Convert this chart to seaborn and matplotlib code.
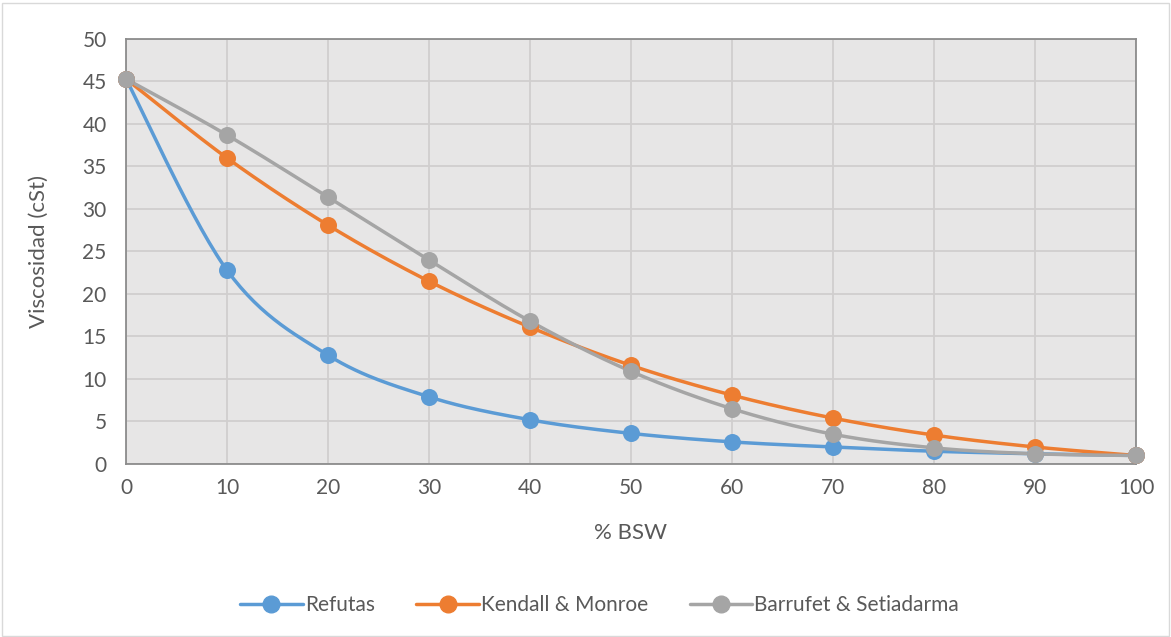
import numpy as np
import pandas as pd
import matplotlib
matplotlib.use("Agg")
import matplotlib.pyplot as plt
import seaborn as sns
from matplotlib.lines import Line2D
from matplotlib.patches import Rectangle

bsw = [0, 10, 20, 30, 40, 50, 60, 70, 80, 90, 100]
refutas = [45.3, 22.8, 12.8, 7.9, 5.2, 3.6, 2.6, 2.0, 1.5, 1.2, 1.0]
kendall = [45.3, 36.0, 28.1, 21.5, 16.1, 11.6, 8.1, 5.4, 3.4, 2.0, 1.0]
barrufet = [45.3, 38.7, 31.4, 24.0, 16.8, 10.9, 6.5, 3.5, 1.9, 1.2, 1.0]
series_names = ["Refutas", "Kendall & Monroe", "Barrufet & Setiadarma"]
colors = ["#5B9BD5", "#ED7D31", "#A5A5A5"]

sns.set_theme(style="white")
plt.rcParams['font.family'] = ['Lato', 'DejaVu Sans']
text_color = "#595959"


def smooth(x, y, n=30):
    # Catmull-Rom style smoothing (like Excel's smoothed line)
    x = np.asarray(x, float); y = np.asarray(y, float)
    xs, ys = [], []
    for i in range(len(x) - 1):
        p0 = np.array([x[i - 1], y[i - 1]]) if i > 0 else np.array([x[i], y[i]])
        p1 = np.array([x[i], y[i]])
        p2 = np.array([x[i + 1], y[i + 1]])
        p3 = np.array([x[i + 2], y[i + 2]]) if i + 2 < len(x) else p2
        c1 = p1 + (p2 - p0) / 6.0
        c2 = p2 - (p3 - p1) / 6.0
        t = np.linspace(0, 1, n, endpoint=(i == len(x) - 2))[:, None]
        pts = (1 - t) ** 3 * p1 + 3 * (1 - t) ** 2 * t * c1 + 3 * (1 - t) * t ** 2 * c2 + t ** 3 * p2
        xs.append(pts[:, 0]); ys.append(pts[:, 1])
    return np.concatenate(xs), np.concatenate(ys)


fig = plt.figure(figsize=(11.71, 6.37), dpi=100)
fig.patches.append(Rectangle((0.002, 0.002), 0.996, 0.994, transform=fig.transFigure,
                             fill=False, edgecolor="#D9D9D9", linewidth=1))
ax = fig.add_axes([0.1076, 0.2716, 0.8625, 0.6672])
ax.set_facecolor("#E7E6E6")

for name, vals, c in zip(series_names, [refutas, kendall, barrufet], colors):
    sx, sy = smooth(bsw, vals)
    df_s = pd.DataFrame({"x": sx, "y": sy})
    sns.lineplot(data=df_s, x="x", y="y", ax=ax, color=c, linewidth=2.5, sort=False,
                 estimator=None, zorder=3)
    df = pd.DataFrame({"x": bsw, "y": vals})
    sns.scatterplot(data=df, x="x", y="y", ax=ax, color=c, s=150, edgecolor=c,
                    linewidth=0, zorder=4, clip_on=False)

ax.set_xlim(0, 100)
ax.set_ylim(0, 50)
ax.set_xticks(bsw)
ax.set_yticks(range(0, 51, 5))
ax.grid(True, color="#D0CECE", linewidth=1.3)
ax.set_axisbelow(True)
for s in ax.spines.values():
    s.set_color("#8C8C8C")
    s.set_linewidth(1.3)
ax.tick_params(axis="both", colors=text_color, labelsize=15, length=0)
ax.tick_params(axis="y", pad=14)
ax.tick_params(axis="x", pad=10)
ax.set_xlabel("% BSW", fontsize=16, color=text_color, labelpad=18)
ax.set_ylabel("Viscosidad (cSt)", fontsize=16, color=text_color, labelpad=24)

handles = [Line2D([0], [0], color=c, linewidth=2.5, marker="o", markersize=12) for c in colors]
leg = fig.legend(handles, series_names, loc="center", bbox_to_anchor=(0.512, 0.05),
                 ncol=3, frameon=False, fontsize=15, handlelength=3.0,
                 columnspacing=2.0, handletextpad=0.1)
for t in leg.get_texts():
    t.set_color(text_color)

fig.savefig("out.png", dpi=100)
